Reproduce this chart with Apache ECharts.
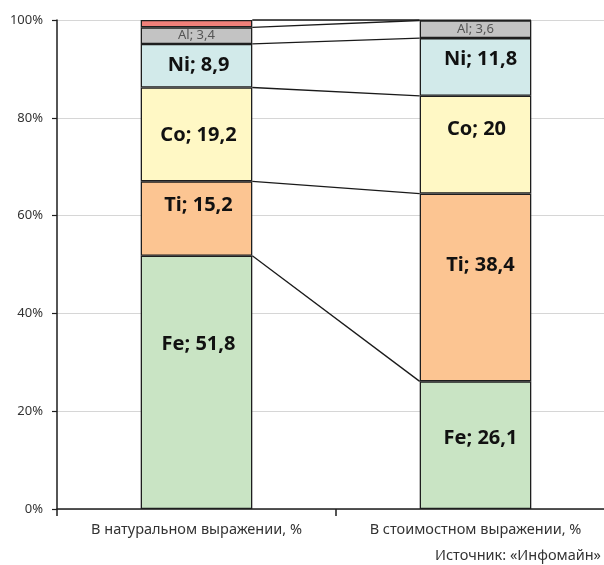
<!DOCTYPE html>
<html><head><meta charset="utf-8">
<script src="https://cdn.jsdelivr.net/npm/echarts@6/dist/echarts.min.js"></script>
<style>html,body{margin:0;padding:0;background:#fff}#c{width:604px;height:565px}</style>
</head><body><div id="c"></div>
<script>
const categories = ['В натуральном выражении, %', 'В стоимостном выражении, %'];
const feValues = [51.8, 26.1];
const tiValues = [15.2, 38.4];
const coValues = [19.2, 20];
const niValues = [8.9, 11.8];
const alValues = [3.4, 3.6];
const otherValues = [1.5, 0.1];
const elementNames = ['Fe', 'Ti', 'Co', 'Ni', 'Al', 'Прочие'];
const yTickValues = [0, 20, 40, 60, 80, 100];
const sourceText = 'Источник: «Инфомайн»';

const seriesValues = [feValues, tiValues, coValues, niValues, alValues, otherValues];
const colors = ['#c9e4c4', '#fcc592', '#fff8c5', '#d2eaea', '#c3c3c3', '#f0807a'];
// label offsets per series per category [dx, dy]
const labelOffsets = [
  [[2, -38], [5, -7]],
  [[2, -13], [5, -22]],
  [[2, 1], [1, -15]],
  [[2, 0], [5, -8]],
  [[0, 0], [0, 0]],
  [[0, 0], [0, 0]]
];

function fmt(v){ return String(v).replace('.', ','); }

const cumLeft = [], cumRight = [];
let sL = 0, sR = 0;
seriesValues.forEach(arr => { sL += arr[0]; sR += arr[1]; cumLeft.push(sL); cumRight.push(sR); });

const chart = echarts.init(document.getElementById('c'), null, {renderer: 'canvas'});
const FONT = 'Noto Sans';
const series = seriesValues.map((arr, si) => ({
  name: elementNames[si],
  type: 'bar',
  stack: 'total',
  barWidth: '40%',
  itemStyle: { color: colors[si], borderColor: '#1e1e1e', borderWidth: 1.3 },
  data: arr.map((v, ci) => ({
    value: v,
    label: {
      show: si < 5,
      offset: labelOffsets[si][ci],
      formatter: elementNames[si] + '; ' + fmt(v),
      fontSize: si === 4 ? 13 : 20,
      fontWeight: si === 4 ? 'normal' : 'bold',
      color: si === 4 ? '#555' : '#111',
      fontFamily: FONT
    }
  })),
  label: { position: 'inside' }
}));

series.push({
  type: 'custom',
  z: 5,
  data: cumLeft.map(v => [0, v]),
  renderItem: function(params, api){
    const i = params.dataIndex;
    const band = api.size([1, 0])[0];
    const half = band * 0.2;
    const p0 = api.coord([0, cumLeft[i]]);
    const p1 = api.coord([1, Math.min(cumRight[i], 100)]);
    return {
      type: 'line',
      shape: { x1: p0[0] + half, y1: p0[1], x2: p1[0] - half, y2: p1[1] },
      style: { stroke: '#1a1a1a', lineWidth: 1.3 }
    };
  }
});

chart.setOption({
  animation: false,
  grid: { left: 57, right: -11, top: 20, bottom: 56, containLabel: false, outerBoundsMode: 'none' },
  xAxis: {
    type: 'category',
    data: categories,
    axisLine: { show: true, lineStyle: { color: '#1e1e1e', width: 1.5 } },
    axisTick: { show: true, length: 7, lineStyle: { color: '#1e1e1e', width: 1.5 } },
    axisLabel: { fontSize: 14.5, color: '#333', margin: 13, fontFamily: FONT }
  },
  yAxis: {
    type: 'value',
    min: yTickValues[0],
    max: yTickValues[yTickValues.length - 1],
    interval: 20,
    axisLine: { show: true, lineStyle: { color: '#1e1e1e', width: 1.5 } },
    axisTick: { show: true, length: 5, lineStyle: { color: '#1e1e1e', width: 1.2 } },
    axisLabel: { formatter: '{value}%', fontSize: 13, color: '#333', margin: 14, fontFamily: FONT },
    splitLine: { show: true, lineStyle: { color: '#d6d6d6', width: 1 } }
  },
  graphic: [{
    type: 'text',
    right: 3,
    top: 548,
    style: { text: sourceText, fontSize: 14.5, fill: '#333', fontFamily: FONT }
  }],
  series: series
});
</script>
</body></html>
